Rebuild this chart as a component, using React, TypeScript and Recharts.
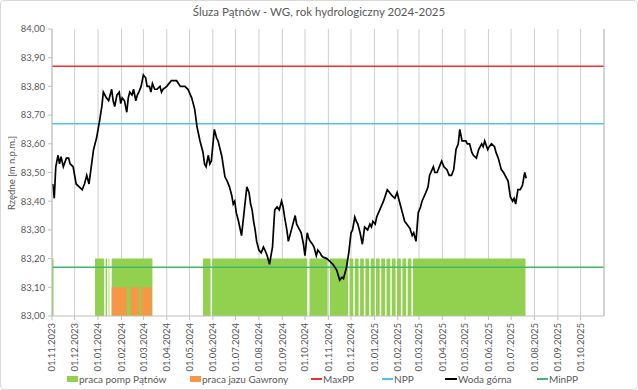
import React from 'react';
import { ComposedChart, Area, Line, XAxis, YAxis, CartesianGrid } from 'recharts';

// =============================================================================
// Data
// =============================================================================

const START_DATE = '01.11.2023';
const END_DAY = 731; // 01.11.2025

const monthLabels = [
  '01.11.2023', '01.12.2023', '01.01.2024', '01.02.2024', '01.03.2024', '01.04.2024',
  '01.05.2024', '01.06.2024', '01.07.2024', '01.08.2024', '01.09.2024', '01.10.2024',
  '01.11.2024', '01.12.2024', '01.01.2025', '01.02.2025', '01.03.2025', '01.04.2025',
  '01.05.2025', '01.06.2025', '01.07.2025', '01.08.2025', '01.09.2025', '01.10.2025',
];

const yTicks = [83.0, 83.1, 83.2, 83.3, 83.4, 83.5, 83.6, 83.7, 83.8, 83.9, 84.0];
const gridLevels = [
  83.0, 83.05, 83.1, 83.15, 83.2, 83.25, 83.3, 83.35, 83.4, 83.45, 83.5,
  83.55, 83.6, 83.65, 83.7, 83.75, 83.8, 83.85, 83.9, 83.95, 84.0,
];

const MAX_PP = 83.87;
const NPP = 83.67;
const MIN_PP = 83.17;
const POMPY_LEVEL = 83.2;
const JAZ_LEVEL = 83.1;

// okresy pracy pomp Pątnów [od, do]
const pracaPomp: [string, string][] = [
  ['01.11.2023', '03.11.2023'],
  ['28.12.2023', '09.01.2024'],
  ['11.01.2024', '13.01.2024'],
  ['15.01.2024', '16.01.2024'],
  ['19.01.2024', '13.03.2024'],
  ['19.05.2024', '29.05.2024'],
  ['31.05.2024', '04.10.2024'],
  ['07.10.2024', '31.10.2024'],
  ['03.11.2024', '27.11.2024'],
  ['29.11.2024', '04.12.2024'],
  ['06.12.2024', '11.12.2024'],
  ['13.12.2024', '18.12.2024'],
  ['20.12.2024', '25.12.2024'],
  ['27.12.2024', '01.01.2025'],
  ['03.01.2025', '08.01.2025'],
  ['10.01.2025', '15.01.2025'],
  ['17.01.2025', '22.01.2025'],
  ['24.01.2025', '29.01.2025'],
  ['31.01.2025', '05.02.2025'],
  ['07.02.2025', '12.02.2025'],
  ['14.02.2025', '19.02.2025'],
  ['21.02.2025', '20.07.2025'],
];

// okresy pracy jazu Gawrony [od, do]
const pracaJazu: [string, string][] = [
  ['19.01.2024', '08.02.2024'],
  ['13.02.2024', '24.02.2024'],
  ['27.02.2024', '12.03.2024'],
];

// woda górna [dzień od 01.11.2023, rzędna]
const wodaGorna: [number, number][] = [
  [1, 83.46], [3, 83.41], [5, 83.52], [8, 83.56], [10, 83.53], [12, 83.555],
  [15, 83.52], [19, 83.55], [22, 83.55], [24, 83.53], [28, 83.52], [32, 83.46],
  [36, 83.45], [40, 83.44], [43, 83.46], [46, 83.49], [49, 83.46], [55, 83.58],
  [59, 83.62], [63, 83.68], [66, 83.73], [68, 83.78], [70, 83.77], [72, 83.76],
  [75, 83.75], [77, 83.77], [79, 83.79], [81, 83.75], [83, 83.73], [86, 83.77],
  [89, 83.78], [91, 83.74], [93, 83.76], [96, 83.75], [99, 83.71], [101, 83.76],
  [103, 83.78], [106, 83.77], [108, 83.79], [111, 83.75], [113, 83.77], [115, 83.78],
  [118, 83.8], [121, 83.84], [124, 83.83], [126, 83.8], [129, 83.8], [131, 83.78],
  [133, 83.81], [136, 83.79], [139, 83.79], [143, 83.8], [145, 83.78], [147, 83.79],
  [152, 83.8], [158, 83.82], [165, 83.82], [170, 83.8], [176, 83.8], [180, 83.79],
  [185, 83.76], [189, 83.72], [192, 83.66], [196, 83.61], [200, 83.57], [202, 83.53],
  [204, 83.52], [207, 83.56], [209, 83.53], [211, 83.54], [215, 83.65], [218, 83.62],
  [220, 83.61], [225, 83.555], [227, 83.52], [229, 83.485], [232, 83.47], [235, 83.45],
  [238, 83.42], [240, 83.39], [242, 83.4], [244, 83.36], [247, 83.33], [251, 83.28],
  [258, 83.45], [261, 83.43], [263, 83.39], [265, 83.37], [267, 83.33], [269, 83.3],
  [271, 83.26], [274, 83.23], [277, 83.22], [280, 83.24], [282, 83.23], [285, 83.21],
  [288, 83.18], [292, 83.24], [294, 83.33], [295, 83.37], [298, 83.38], [301, 83.37],
  [304, 83.4], [306, 83.38], [308, 83.345], [311, 83.3], [313, 83.26], [317, 83.3],
  [322, 83.35], [324, 83.32], [326, 83.31], [330, 83.29], [333, 83.25], [335, 83.21],
  [338, 83.29], [340, 83.27], [342, 83.26], [345, 83.25], [347, 83.24], [350, 83.21],
  [352, 83.23], [355, 83.22], [357, 83.21], [359, 83.205], [364, 83.2], [368, 83.19],
  [372, 83.18], [377, 83.16], [381, 83.125], [384, 83.135], [386, 83.13], [390, 83.17],
  [393, 83.22], [396, 83.29], [398, 83.3], [401, 83.345], [403, 83.33], [405, 83.32],
  [408, 83.29], [411, 83.25], [414, 83.31], [418, 83.3], [421, 83.32], [423, 83.31],
  [425, 83.33], [428, 83.32], [430, 83.345], [434, 83.37], [439, 83.4], [444, 83.44],
  [447, 83.43], [450, 83.42], [454, 83.41], [457, 83.43], [460, 83.4], [462, 83.38],
  [465, 83.35], [467, 83.33], [470, 83.32], [474, 83.305], [477, 83.28], [479, 83.29],
  [482, 83.26], [485, 83.36], [488, 83.38], [490, 83.4], [495, 83.43], [498, 83.45],
  [500, 83.49], [505, 83.52], [507, 83.5], [510, 83.5], [513, 83.52], [516, 83.54],
  [519, 83.52], [523, 83.51], [526, 83.49], [529, 83.49], [532, 83.51], [535, 83.58],
  [538, 83.6], [540, 83.65], [543, 83.61], [548, 83.61], [550, 83.6], [553, 83.6],
  [556, 83.57], [558, 83.56], [562, 83.55], [565, 83.58], [569, 83.6], [571, 83.59],
  [573, 83.61], [577, 83.58], [579, 83.59], [582, 83.6], [586, 83.59], [588, 83.57],
  [591, 83.55], [593, 83.53], [595, 83.51], [598, 83.5], [600, 83.49], [604, 83.47],
  [607, 83.415], [610, 83.4], [612, 83.41], [614, 83.39], [617, 83.44], [620, 83.44],
  [623, 83.455], [626, 83.5], [628, 83.48],
];

// =============================================================================
// Helpers
// =============================================================================

const FONT = 'Lato, "Open Sans", sans-serif';
const TEXT = '#595959';

function parseDate(s: string): number {
  const [d, m, y] = s.split('.').map(Number);
  return Date.UTC(y, m - 1, d);
}

const T0 = parseDate(START_DATE);
const toDay = (s: string) => Math.round((parseDate(s) - T0) / 86400000);

const monthDays = monthLabels.map(toDay);
const pompDays = pracaPomp.map(([a, b]) => [toDay(a), toDay(b)]);
const jazDays = pracaJazu.map(([a, b]) => [toDay(a), toDay(b)]);
const wodaMap = new Map(wodaGorna.map(([d, v]) => [d, v]));

const inRanges = (ranges: number[][], d: number) =>
  ranges.some(([a, b]) => d >= a && d <= b);

const chartData = Array.from({ length: END_DAY + 1 }, (_, day) => ({
  day,
  maxPP: MAX_PP,
  npp: NPP,
  minPP: MIN_PP,
  pompy: inRanges(pompDays, day) ? POMPY_LEVEL : null,
  jaz: inRanges(jazDays, day) ? JAZ_LEVEL : null,
  woda: wodaMap.get(day) ?? null,
}));

const fmtLevel = (v: number) => v.toFixed(2).replace('.', ',');

function MonthTick({ x, y, payload }: any) {
  const idx = monthDays.indexOf(payload.value);
  return (
    <text
      x={x}
      y={y}
      transform={`rotate(-90 ${x} ${y})`}
      textAnchor="end"
      dy="0.35em"
      fontSize={9.5}
      fontFamily={FONT}
      fill={TEXT}
    >
      {monthLabels[idx] ?? ''}
    </text>
  );
}

// =============================================================================
// Legend
// =============================================================================

const legendItems = [
  { label: 'praca pomp Pątnów', color: '#92D050', kind: 'box', left: 66 },
  { label: 'praca jazu Gawrony', color: '#F79646', kind: 'box', left: 189 },
  { label: 'MaxPP', color: '#FF2A2A', kind: 'line', left: 310 },
  { label: 'NPP', color: '#4EC3F2', kind: 'line', left: 381 },
  { label: 'Woda górna', color: '#000000', kind: 'line', left: 444 },
  { label: 'MinPP', color: '#3DBA68', kind: 'line', left: 536 },
];

function ChartLegend() {
  return (
    <>
      {legendItems.map((it) => (
        <div
          key={it.label}
          style={{
            position: 'absolute',
            left: it.left,
            top: 371,
            height: 14,
            display: 'flex',
            alignItems: 'center',
            fontFamily: FONT,
            fontSize: 10,
            color: TEXT,
            whiteSpace: 'nowrap',
          }}
        >
          {it.kind === 'box' ? (
            <span style={{ width: 11, height: 6, background: it.color, marginRight: 1 }} />
          ) : (
            <span style={{ width: it.label === 'Woda górna' ? 12 : 11, height: 2, background: it.color, marginRight: 1 }} />
          )}
          {it.label}
        </div>
      ))}
    </>
  );
}

// =============================================================================
// App
// =============================================================================

export default function App() {
  return (
    <div
      style={{
        position: 'absolute',
        left: 0,
        top: 0,
        width: 638,
        height: 390,
        background: '#fff',
        border: '1px solid #d9d9d9',
        borderRadius: 4,
        boxSizing: 'border-box',
        overflow: 'hidden',
      }}
    >
      <div
        style={{
          position: 'absolute',
          left: 0,
          top: 4,
          width: 636,
          textAlign: 'center',
          fontFamily: FONT,
          fontSize: 11.5,
          color: TEXT,
        }}
      >
        Śluza Pątnów - WG, rok hydrologiczny 2024-2025
      </div>
      <div
        style={{
          position: 'absolute',
          left: 10,
          top: 172,
          transform: 'translate(-50%, -50%) rotate(-90deg)',
          fontFamily: FONT,
          fontSize: 9.5,
          color: TEXT,
          whiteSpace: 'nowrap',
        }}
      >
        Rzędne [m n.p.m.]
      </div>
      <div style={{ position: 'absolute', left: -1, top: -1 }}>
        <ComposedChart
          width={638}
          height={390}
          data={chartData}
          margin={{ top: 29, right: 0, bottom: 14, left: 0 }}
        >
          <CartesianGrid
            stroke="#cfcfcf"
            strokeWidth={1}
            horizontalValues={gridLevels}
            vertical
          />
          <XAxis
            dataKey="day"
            type="number"
            domain={[0, END_DAY]}
            ticks={monthDays}
            interval={0}
            height={60}
            tickSize={4}
            tickMargin={3}
            stroke="#bfbfbf"
            tick={<MonthTick />}
          />
          <YAxis
            yAxisId="left"
            domain={[83, 84]}
            ticks={yTicks}
            width={52}
            tickSize={4}
            tickMargin={3}
            stroke="#bfbfbf"
            tickFormatter={fmtLevel}
            tick={{ fontSize: 9.5, fontFamily: FONT, fill: TEXT }}
          />
          <YAxis
            yAxisId="right"
            orientation="right"
            domain={[83, 84]}
            ticks={yTicks}
            width={34}
            tickSize={4}
            tickMargin={3}
            stroke="#bfbfbf"
            tickFormatter={fmtLevel}
            tick={{ fontSize: 9.5, fontFamily: FONT, fill: TEXT, textAnchor: 'start' }}
          />
          <Area
            yAxisId="left"
            dataKey="pompy"
            type="linear"
            baseValue={83}
            stroke="none"
            fill="#92D050"
            fillOpacity={1}
            connectNulls={false}
            dot={false}
            activeDot={false}
            isAnimationActive={false}
          />
          <Area
            yAxisId="left"
            dataKey="jaz"
            type="linear"
            baseValue={83}
            stroke="none"
            fill="#F79646"
            fillOpacity={1}
            connectNulls={false}
            dot={false}
            activeDot={false}
            isAnimationActive={false}
          />
          <Line
            yAxisId="left"
            dataKey="maxPP"
            stroke="#FF2A2A"
            strokeWidth={1.6}
            dot={false}
            isAnimationActive={false}
          />
          <Line
            yAxisId="left"
            dataKey="npp"
            stroke="#4EC3F2"
            strokeWidth={1.6}
            dot={false}
            isAnimationActive={false}
          />
          <Line
            yAxisId="left"
            dataKey="minPP"
            stroke="#3DBA68"
            strokeWidth={1.6}
            dot={false}
            isAnimationActive={false}
          />
          <Line
            yAxisId="left"
            dataKey="woda"
            type="linear"
            stroke="#000000"
            strokeWidth={1.7}
            connectNulls
            dot={false}
            isAnimationActive={false}
          />
        </ComposedChart>
      </div>
      <ChartLegend />
    </div>
  );
}
